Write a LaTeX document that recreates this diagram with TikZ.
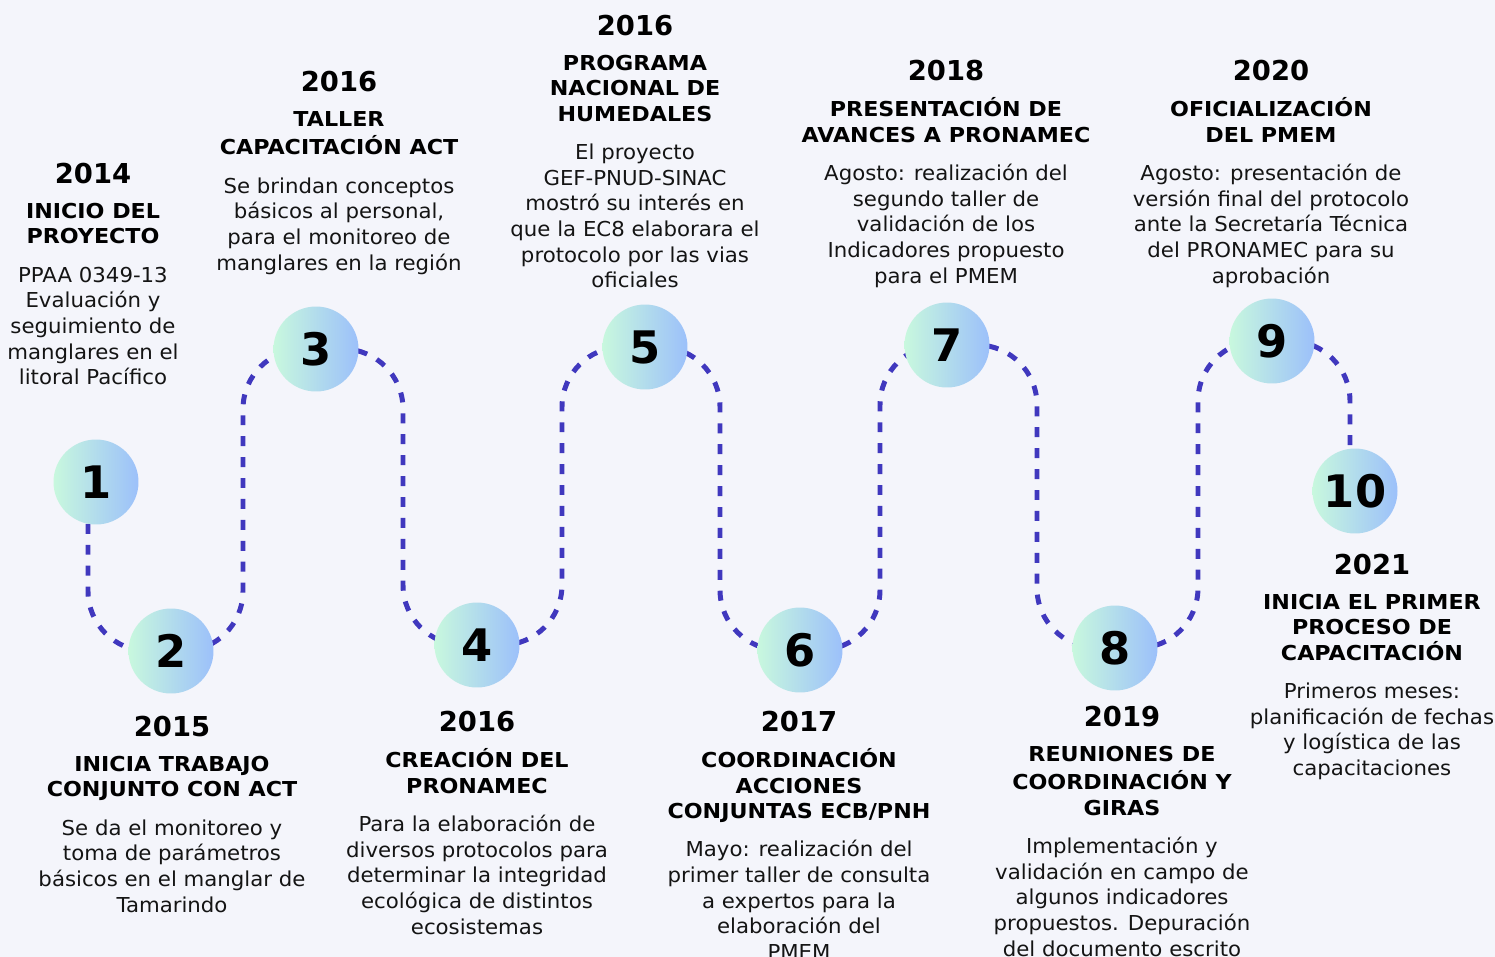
\documentclass[tikz,border=0pt]{standalone}
\usepackage{fontspec}
\setmainfont{DejaVu Sans}
\newfontfamily\headfont[FakeStretch=1.08]{DejaVu Sans}
\newfontfamily\descfont[FakeStretch=1.035]{DejaVu Sans}
\usetikzlibrary{positioning}
\pgfdeclarelayer{background}
\pgfsetlayers{background,main}

\definecolor{bgcol}{RGB}{244,245,251}
\definecolor{trailcol}{RGB}{64,56,190}
\definecolor{mintcol}{RGB}{200,248,222}
\definecolor{skycol}{RGB}{156,192,250}

\begin{document}
\begin{tikzpicture}[x=0.02cm, y=-0.02cm]
      \tikzstyle{numnode} = [circle, minimum size=1.7cm, inner sep=0pt, left color=mintcol, right color=skycol, font=\fontsize{25.5}{30}\selectfont\bfseries]
      \tikzstyle{yearnode} = [inner sep=0pt, font=\fontsize{15.6}{18}\selectfont\bfseries]
      \tikzstyle{headnode} = [inner sep=0pt, align=center, font=\headfont\fontsize{11.7}{14.45}\selectfont\bfseries]
      \tikzstyle{descnode} = [inner sep=0pt, align=center, text=black!92, font=\descfont\fontsize{11.7}{14.6}\selectfont]
      \tikzstyle{trail} = [draw=trailcol, line width=2.83pt, dash pattern=on 5.67pt off 6.24pt, rounded corners=1.2cm]

      \useasboundingbox (0,0) rectangle (1495,957);

      % milestones
      \node[numnode] (n1) at (96,482) {1};
      \node[numnode] (n2) at (171,651) {2};
      \node[numnode] (n3) at (316,349) {3};
      \node[numnode] (n4) at (477,645) {4};
      \node[numnode] (n5) at (645,347) {5};
      \node[numnode] (n6) at (800,650) {6};
      \node[numnode] (n7) at (947,345) {7};
      \node[numnode] (n8) at (1115,648) {8};
      \node[numnode] (n9) at (1272,341) {9};
      \node[numnode] (n10) at (1355,491) {10};

      % x of the vertical runs
      \coordinate (x12) at (88,0);
      \coordinate (x23) at (243,0);
      \coordinate (x34) at (403,0);
      \coordinate (x45) at (562,0);
      \coordinate (x56) at (720,0);
      \coordinate (x67) at (880,0);
      \coordinate (x78) at (1037,0);
      \coordinate (x89) at (1198,0);
      \coordinate (x910) at (1350,0);

      % labels
      \node[yearnode] (y1) at (93,174) {2014};
      \node[headnode, below=0.314cm of y1] (h1) {\strut INICIO DEL\\PROYECTO\strut};
      \node[descnode, below=0.24cm of h1] (d1) {\strut PPAA 0349-13\\Evaluación y\\seguimiento de\\manglares en el\\litoral Pacífico};

      \node[yearnode] (y2) at (172,727) {2015};
      \node[headnode, below=0.314cm of y2] (h2) {\strut INICIA TRABAJO\\CONJUNTO CON ACT\strut};
      \node[descnode, below=0.24cm of h2] (d2) {\strut Se da el monitoreo y\\toma de parámetros\\básicos en el manglar de\\Tamarindo};

      \node[yearnode] (y3) at (339,82) {2016};
      \node[headnode, below=0.314cm of y3] (h3) {\strut TALLER\\CAPACITACIÓN ACT\strut};
      \node[descnode, below=0.24cm of h3] (d3) {\strut Se brindan conceptos\\básicos al personal,\\para el monitoreo de\\manglares en la región};

      \node[yearnode] (y4) at (477,722) {2016};
      \node[headnode, below=0.314cm of y4] (h4) {\strut CREACIÓN DEL\\PRONAMEC\strut};
      \node[descnode, below=0.24cm of h4] (d4) {\strut Para la elaboración de\\diversos protocolos para\\determinar la integridad\\ecológica de distintos\\ecosistemas};

      \node[yearnode] (y5) at (635,26) {2016};
      \node[headnode, below=0.314cm of y5] (h5) {\strut PROGRAMA\\NACIONAL DE\\HUMEDALES\strut};
      \node[descnode, below=0.24cm of h5] (d5) {\strut El proyecto\\GEF-PNUD-SINAC\\mostró su interés en\\que la EC8 elaborara el\\protocolo por las vias\\oficiales};

      \node[yearnode] (y6) at (799,722) {2017};
      \node[headnode, below=0.314cm of y6] (h6) {\strut COORDINACIÓN\\ACCIONES\\CONJUNTAS ECB/PNH\strut};
      \node[descnode, below=0.24cm of h6] (d6) {\strut Mayo: realización del\\primer taller de consulta\\a expertos para la\\elaboración del\\PMEM};

      \node[yearnode] (y7) at (946,71) {2018};
      \node[headnode, below=0.314cm of y7] (h7) {\strut PRESENTACIÓN DE\\AVANCES A PRONAMEC\strut};
      \node[descnode, below=0.24cm of h7] (d7) {\strut Agosto: realización del\\segundo taller de\\validación de los\\Indicadores propuesto\\para el PMEM};

      \node[yearnode] (y8) at (1122,717) {2019};
      \node[headnode, below=0.314cm of y8] (h8) {\strut REUNIONES DE\\COORDINACIÓN Y\\GIRAS\strut};
      \node[descnode, below=0.24cm of h8] (d8) {\strut Implementación y\\validación en campo de\\algunos indicadores\\propuestos. Depuración\\del documento escrito};

      \node[yearnode] (y9) at (1271,71) {2020};
      \node[headnode, below=0.314cm of y9] (h9) {\strut OFICIALIZACIÓN\\DEL PMEM\strut};
      \node[descnode, below=0.24cm of h9] (d9) {\strut Agosto: presentación de\\versión final del protocolo\\ante la Secretaría Técnica\\del PRONAMEC para su\\aprobación};

      \node[yearnode] (y10) at (1372,565) {2021};
      \node[headnode, below=0.314cm of y10] (h10) {\strut INICIA EL PRIMER\\PROCESO DE\\CAPACITACIÓN\strut};
      \node[descnode, below=0.24cm of h10] (d10) {\strut Primeros meses:\\planificación de fechas\\y logística de las\\capacitaciones};

      \begin{pgfonlayer}{background}
        \fill[bgcol] (0,0) rectangle (1495,957);
        % trail between milestones
        \draw[trail] (n1.center -| x12) -- (n2.center -| x12) -- (n2.center);
        \draw[trail] (n2.center) -- (n2.center -| x23) -- (n3.center -| x23) -- (n3.center);
        \draw[trail] (n3.center) -- (n3.center -| x34) -- (n4.center -| x34) -- (n4.center);
        \draw[trail] (n4.center) -- (n4.center -| x45) -- (n5.center -| x45) -- (n5.center);
        \draw[trail] (n5.center) -- (n5.center -| x56) -- (n6.center -| x56) -- (n6.center);
        \draw[trail] (n6.center) -- (n6.center -| x67) -- (n7.center -| x67) -- (n7.center);
        \draw[trail] (n7.center) -- (n7.center -| x78) -- (n8.center -| x78) -- (n8.center);
        \draw[trail] (n8.center) -- (n8.center -| x89) -- (n9.center -| x89) -- (n9.center);
        \draw[trail] (n9.center) -- (n9.center -| x910) -- (n10.center -| x910);
      \end{pgfonlayer}
    \end{tikzpicture}
\end{document}
